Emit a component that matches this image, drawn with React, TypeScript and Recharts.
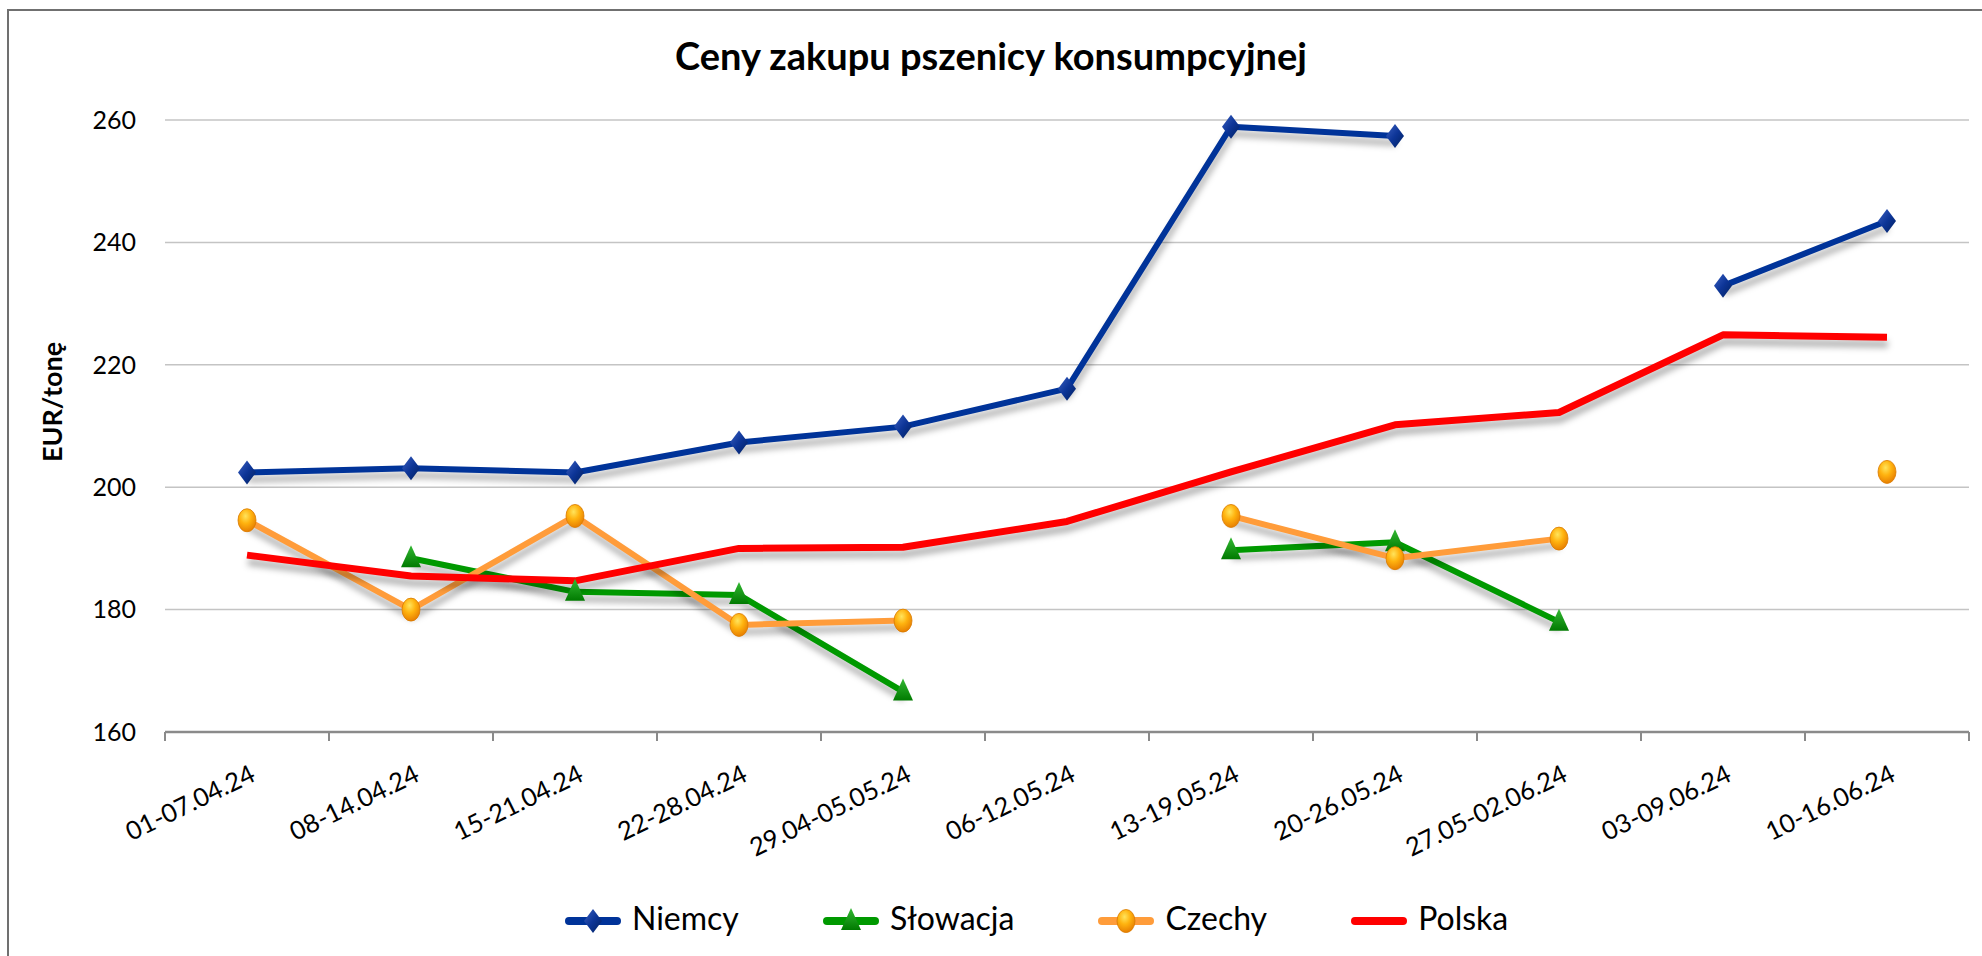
import React from 'react';
import { CartesianGrid, Line, LineChart, XAxis, YAxis } from 'recharts';

// Ceny zakupu pszenicy konsumpcyjnej – weekly purchase prices (EUR/t) for
// Niemcy, Słowacja, Czechy and Polska. Gaps (null) are weeks with no quote.

const CATEGORIES = [
  '01-07.04.24',
  '08-14.04.24',
  '15-21.04.24',
  '22-28.04.24',
  '29.04-05.05.24',
  '06-12.05.24',
  '13-19.05.24',
  '20-26.05.24',
  '27.05-02.06.24',
  '03-09.06.24',
  '10-16.06.24',
];

const NIEMCY = [202.4, 203.1, 202.4, 207.3, 209.9, 216.1, 258.9, 257.4, null, 232.9, 243.5];
const SLOWACJA = [null, 188.4, 182.9, 182.4, 166.6, null, 189.7, 191.0, 178.0, null, null];
const CZECHY = [194.6, 180.0, 195.3, 177.5, 178.2, null, 195.3, 188.4, 191.6, null, 202.5];
const POLSKA = [188.9, 185.5, 184.7, 190.0, 190.2, 194.4, 202.5, 210.2, 212.2, 224.9, 224.5];

const Y_TICKS = [160, 180, 200, 220, 240, 260];

const SERIES = [
  { key: 'niemcy', name: 'Niemcy', color: '#003399', marker: 'diamond' },
  { key: 'slowacja', name: 'Słowacja', color: '#009900', marker: 'triangle' },
  { key: 'czechy', name: 'Czechy', color: '#ff9c3a', marker: 'circle' },
  { key: 'polska', name: 'Polska', color: '#ff0000', marker: 'none' },
] as const;

const FONT = 'Lato, "Open Sans", sans-serif';

const data = CATEGORIES.map((label, i) => ({
  i,
  label,
  niemcy: NIEMCY[i],
  slowacja: SLOWACJA[i],
  czechy: CZECHY[i],
  polska: POLSKA[i],
}));

// tick marks sit on the category boundaries, labels on the centres
const BOUNDARY_TICKS = [...CATEGORIES.map((_, i) => i - 0.5), CATEGORIES.length - 0.5];
const CENTER_TICKS = CATEGORIES.map((_, i) => i);
const X_DOMAIN = [-0.5, CATEGORIES.length - 0.5];

const Marker = ({ kind, cx, cy, ids }: { kind: string; cx: number; cy: number; ids: string }) => {
  if (kind === 'diamond')
    return (
      <polygon
        points={`${cx},${cy - 12} ${cx + 9},${cy} ${cx},${cy + 12} ${cx - 9},${cy}`}
        fill={`url(#${ids}Diamond)`}
      />
    );
  if (kind === 'triangle')
    return (
      <polygon
        points={`${cx},${cy - 13} ${cx + 10},${cy + 9} ${cx - 10},${cy + 9}`}
        fill={`url(#${ids}Triangle)`}
      />
    );
  if (kind === 'circle')
    return (
      <ellipse cx={cx} cy={cy} rx={9} ry={11.5} fill={`url(#${ids}Circle)`} stroke="#d97a00" strokeWidth={0.8} />
    );
  return null;
};

const Gradients = ({ ids }: { ids: string }) => (
  <defs>
    <linearGradient id={`${ids}Diamond`} x1="0" y1="0" x2="1" y2="1">
      <stop offset="0%" stopColor="#3a5fc0" />
      <stop offset="50%" stopColor="#0d3597" />
      <stop offset="100%" stopColor="#00205f" />
    </linearGradient>
    <linearGradient id={`${ids}Triangle`} x1="0" y1="0" x2="0" y2="1">
      <stop offset="0%" stopColor="#33b833" />
      <stop offset="100%" stopColor="#007a00" />
    </linearGradient>
    <radialGradient id={`${ids}Circle`} cx="42%" cy="32%" r="72%">
      <stop offset="0%" stopColor="#ffe45c" />
      <stop offset="45%" stopColor="#ffb30f" />
      <stop offset="100%" stopColor="#e57a00" />
    </radialGradient>
  </defs>
);

const makeDot = (kind: string) => (p: any) => {
  const { cx, cy, value, index } = p;
  if (value == null || cx == null || cy == null) return <g key={`d${index}`} />;
  return (
    <g key={`d${index}`}>
      <Marker kind={kind} cx={cx} cy={cy} ids="c" />
    </g>
  );
};

const LabelTick = (props: any) => {
  const { x, y, payload } = props;
  const tx = x + 10;
  const ty = y + 36;
  return (
    <text
      x={tx}
      y={ty}
      textAnchor="end"
      transform={`rotate(-26, ${tx}, ${ty})`}
      fontFamily={FONT}
      fontSize={25.5}
      fill="#000"
    >
      {CATEGORIES[payload.value]}
    </text>
  );
};

const YLabel = (props: any) => {
  const { viewBox } = props;
  const x = viewBox.x + 42;
  const y = viewBox.y + viewBox.height / 2 - 24;
  return (
    <text
      x={x}
      y={y}
      textAnchor="middle"
      transform={`rotate(-90, ${x}, ${y})`}
      fontFamily={FONT}
      fontWeight={700}
      fontSize={27}
      fill="#000"
    >
      EUR/tonę
    </text>
  );
};

export default function App() {
  return (
    <div
      style={{
        position: 'absolute',
        left: 0,
        top: 0,
        width: 1982,
        height: 956,
        overflow: 'hidden',
        background: '#fff',
        fontFamily: FONT,
      }}
    >
      <style>{`.recharts-line { filter: drop-shadow(1px 7px 3px rgba(0,0,0,0.3)); }`}</style>
      <div
        style={{
          position: 'absolute',
          left: 7,
          top: 9,
          width: 2100,
          height: 1100,
          border: '2px solid #707070',
        }}
      />
      <div
        style={{
          position: 'absolute',
          left: 0,
          top: 32,
          width: 1982,
          textAlign: 'center',
          fontSize: 38,
          fontWeight: 700,
          color: '#000',
        }}
      >
        Ceny zakupu pszenicy konsumpcyjnej
      </div>
      <div style={{ position: 'absolute', left: 0, top: 0 }}>
        <LineChart width={1982} height={956} data={data} margin={{ top: 120, right: 13, left: 20, bottom: 92 }}>
          <Gradients ids="c" />
          <CartesianGrid vertical={false} stroke="#c4c4c4" strokeWidth={1.5} yAxisId="y" xAxisId="bounds" />
          <XAxis
            xAxisId="bounds"
            type="number"
            dataKey="i"
            domain={X_DOMAIN}
            ticks={BOUNDARY_TICKS}
            interval={0}
            height={12}
            tickSize={9}
            tickFormatter={() => ''}
            stroke="#8a8a8a"
            axisLine={{ stroke: '#8a8a8a', strokeWidth: 2.5 }}
            tickLine={{ stroke: '#8a8a8a', strokeWidth: 2 }}
          />
          <XAxis
            xAxisId="labels"
            type="number"
            dataKey="i"
            domain={X_DOMAIN}
            ticks={CENTER_TICKS}
            interval={0}
            height={120}
            tickSize={0}
            tickMargin={0}
            axisLine={false}
            tickLine={false}
            tick={<LabelTick />}
          />
          <YAxis
            yAxisId="y"
            domain={[160, 260]}
            ticks={Y_TICKS}
            interval={0}
            width={145}
            axisLine={false}
            tickLine={false}
            tickSize={0}
            tickMargin={29}
            tick={{ fontFamily: FONT, fontSize: 25, fill: '#000' }}
            label={<YLabel />}
          />
          {SERIES.map((s) => (
            <Line
              key={s.key}
              xAxisId="bounds"
              yAxisId="y"
              type="linear"
              dataKey={s.key}
              name={s.name}
              stroke={s.color}
              strokeWidth={s.key === 'polska' ? 7 : 6}
              strokeLinejoin="round"
              dot={s.marker === 'none' ? false : makeDot(s.marker)}
              activeDot={false}
              isAnimationActive={false}
            />
          ))}
        </LineChart>
      </div>
      <div
        style={{
          position: 'absolute',
          left: 565,
          top: 898,
          display: 'flex',
          alignItems: 'flex-start',
          fontSize: 32,
          color: '#000',
          lineHeight: 'normal',
        }}
      >
        {SERIES.map((s) => (
          <div key={s.key} style={{ display: 'flex', alignItems: 'flex-start', marginRight: 84 }}>
            <svg width={56} height={38} style={{ display: 'block' }}>
              <Gradients ids={`l${s.key}`} />
              <line x1={4} x2={52} y1={23} y2={23} stroke={s.color} strokeWidth={8} strokeLinecap="round" />
              <Marker kind={s.marker} cx={28} cy={23} ids={`l${s.key}`} />
            </svg>
            <span style={{ marginLeft: 11 }}>{s.name}</span>
          </div>
        ))}
      </div>
    </div>
  );
}
